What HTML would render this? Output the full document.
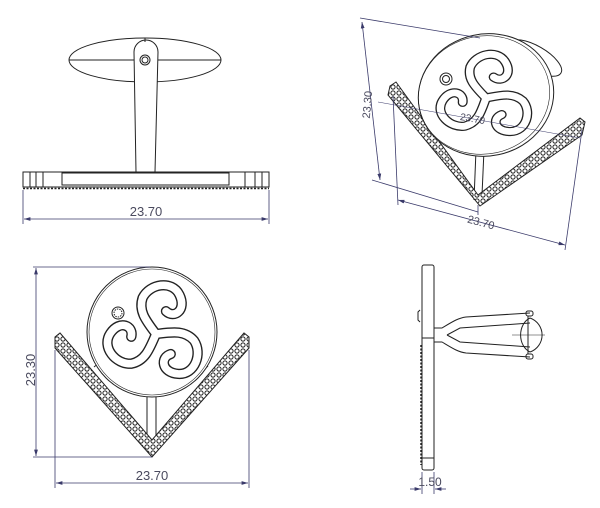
<!DOCTYPE html>
<html><head><meta charset="utf-8"><style>
html,body{margin:0;padding:0;background:#fff;}
svg{display:block;}
text{font-family:"Liberation Sans",sans-serif;fill:#4a4a5e;}
</style></head><body>
<svg width="600" height="508" viewBox="0 0 600 508" xmlns="http://www.w3.org/2000/svg">
<defs>
<pattern id="dots" width="6" height="6" patternUnits="userSpaceOnUse">
<rect width="6" height="6" fill="#fff"/>
<circle cx="3" cy="3" r="2.1" fill="none" stroke="#222" stroke-width="1"/>
</pattern>
<marker id="ar" viewBox="0 0 10 6" refX="10" refY="3" markerWidth="8" markerHeight="5" orient="auto-start-reverse">
<path d="M0,0 L10,3 L0,6 z" fill="#3a3a6a"/></marker>
<path id="arm" d="M0,0 C-6,-12 -12,-22 -6,-33 C2,-44 22,-44 26,-30 C30,-16 18,-10 12,-18"/>
<g id="tri">
<g fill="none" stroke="#222" stroke-width="9" stroke-linecap="round">
<use href="#arm"/><use href="#arm" transform="rotate(120)"/><use href="#arm" transform="rotate(240)"/>
</g>
<g fill="none" stroke="#fff" stroke-width="6.6" stroke-linecap="round">
<use href="#arm"/><use href="#arm" transform="rotate(120)"/><use href="#arm" transform="rotate(240)"/>
</g>
</g>
</defs>

<!-- TOP LEFT VIEW -->
<g fill="none" stroke="#222" stroke-width="1">
<ellipse cx="145" cy="60" rx="76" ry="22"/>
<line x1="69" y1="60" x2="221" y2="60"/>
<path d="M136,172 L134,52 A12,12 0 0 1 158,52 L155,172" fill="#fff"/>
<circle cx="145" cy="60" r="5"/><circle cx="145" cy="60" r="3"/>
<line x1="145" y1="38" x2="145" y2="42"/>
<rect x="23" y="172" width="246" height="15" fill="#fff"/>
<rect x="62" y="173" width="167" height="12"/>
<line x1="30" y1="172" x2="30" y2="187"/><line x1="36" y1="172" x2="36" y2="187"/><line x1="43" y1="172" x2="43" y2="187"/>
<line x1="245" y1="172" x2="245" y2="187"/><line x1="255" y1="172" x2="255" y2="187"/><line x1="262" y1="172" x2="262" y2="187"/>
<line x1="23" y1="188.5" x2="269" y2="188.5" stroke-dasharray="2 1.5" stroke-width="1.5"/>
</g>
<g stroke="#3a3a6a" stroke-width="0.8" fill="none">
<line x1="23" y1="190" x2="23" y2="224"/><line x1="269" y1="190" x2="269" y2="224"/>
<line x1="24" y1="219" x2="268" y2="219" marker-start="url(#ar)" marker-end="url(#ar)"/>
</g>
<text x="146" y="216" font-size="13" text-anchor="middle">23.70</text>

<!-- BOTTOM LEFT VIEW -->
<g stroke="#222" stroke-width="1">
<line x1="147" y1="397" x2="147" y2="442" /><line x1="156" y1="397" x2="156" y2="440"/>
<line x1="94" y1="367" x2="100" y2="362"/><line x1="208" y1="367" x2="203" y2="362"/>
<polygon points="55,337 60,333 152,440 244,333 249,337 249,348 152,457 55,348" fill="url(#dots)"/>
<circle cx="152" cy="332" r="65" fill="#fff"/>
<circle cx="152" cy="332" r="63" fill="none" stroke-width="0.6"/>
</g>
<use href="#tri" transform="translate(156,334) scale(1.15) rotate(-10)"/>
<g stroke="#222" stroke-width="1">
<circle cx="118" cy="313" r="6" fill="#fff"/><circle cx="118" cy="313" r="4" fill="none" stroke-dasharray="1.5 1"/>
</g>
<g stroke="#3a3a6a" stroke-width="0.8" fill="none">
<line x1="33" y1="267" x2="150" y2="267"/><line x1="33" y1="457" x2="152" y2="457"/>
<line x1="36" y1="268" x2="36" y2="456" marker-start="url(#ar)" marker-end="url(#ar)"/>
<line x1="55" y1="350" x2="55" y2="488"/><line x1="249" y1="350" x2="249" y2="488"/>
<line x1="56" y1="483" x2="248" y2="483" marker-start="url(#ar)" marker-end="url(#ar)"/>
</g>
<text x="152" y="480" font-size="13" text-anchor="middle">23.70</text>
<text x="0" y="0" font-size="13" text-anchor="middle" transform="translate(35,370) rotate(-90)">23.30</text>

<!-- TOP RIGHT VIEW -->
<g stroke="#222" stroke-width="1" fill="none">
<ellipse cx="535" cy="58" rx="30" ry="12" transform="rotate(30 535 58)"/>
<ellipse cx="516" cy="45" rx="5" ry="3"/>
<line x1="476" y1="150" x2="474" y2="200"/><line x1="484" y1="150" x2="482" y2="195"/>
<polygon points="390,86 396,82 478,195 580,118 585,122 582,135 480,206 388,95" fill="url(#dots)"/>
<ellipse cx="486" cy="95" rx="68" ry="61" transform="rotate(-12 486 95)" fill="#fff"/>
<ellipse cx="484" cy="95" rx="66" ry="59" transform="rotate(-12 484 95)" stroke-width="0.6"/>
</g>
<use href="#tri" transform="translate(486,98) scale(1.1,1.02) rotate(-15)"/>
<g stroke="#222" stroke-width="1">
<circle cx="446" cy="79" r="6" fill="#fff"/><circle cx="446" cy="79" r="3.5" fill="none"/>
</g>
<g stroke="#3a3a6a" stroke-width="0.8" fill="none">
<line x1="360" y1="18" x2="480" y2="38"/>
<line x1="362" y1="22" x2="380" y2="180" marker-start="url(#ar)" marker-end="url(#ar)"/>
<line x1="372" y1="180" x2="478" y2="212"/>
<line x1="378" y1="102" x2="580" y2="138" stroke-width="0.5"/>
<line x1="393" y1="96" x2="398" y2="205"/>
<line x1="398" y1="200" x2="565" y2="245" marker-start="url(#ar)" marker-end="url(#ar)"/>
<line x1="565" y1="250" x2="582" y2="130"/>
<line x1="478" y1="205" x2="478" y2="215"/>
</g>
<text x="480" y="226" font-size="11" text-anchor="middle" transform="rotate(15 480 226)">23.70</text>
<text x="472" y="122" font-size="10" text-anchor="middle" transform="rotate(10 472 122)">23.70</text>
<text x="0" y="0" font-size="11" text-anchor="middle" transform="translate(371,105) rotate(-85)">23.30</text>

<!-- BOTTOM RIGHT VIEW -->
<g stroke="#222" stroke-width="1" fill="none">
<rect x="422" y="265" width="12" height="205" rx="2" fill="#fff"/>
<line x1="422" y1="338" x2="434" y2="338"/>
<line x1="421" y1="345" x2="421" y2="465" stroke-dasharray="2 1.5" stroke-width="1.5"/>
<path d="M420,310 L418,312 L418,320 L420,322"/>
<line x1="422" y1="458" x2="434" y2="458"/>
<path d="M434,328 L442,328 C452,322 458,318 466,317 L530,313"/>
<path d="M434,342 L442,342 C452,348 458,352 466,353 L530,357"/>
<path d="M447,335 L460,328 L530,323"/>
<path d="M447,335 L460,342 L530,347"/>
<path d="M530,318 A18,18 0 0 1 530,352" />
<path d="M530,318 A14,18 0 0 0 530,352" />
<line x1="528" y1="316" x2="528" y2="354"/>
<line x1="512" y1="335" x2="545" y2="335" stroke-width="0.6"/>
<rect x="526" y="311" width="7" height="5" rx="2"/>
<rect x="526" y="354" width="7" height="5" rx="2"/>
</g>
<g stroke="#3a3a6a" stroke-width="0.8" fill="none">
<line x1="422" y1="472" x2="422" y2="494"/><line x1="434" y1="472" x2="434" y2="494"/>
<line x1="410" y1="489" x2="421" y2="489" marker-end="url(#ar)"/>
<line x1="446" y1="489" x2="435" y2="489" marker-end="url(#ar)"/>
</g>
<text x="430" y="486" font-size="12" text-anchor="middle">1.50</text>
</svg>
</body></html>
